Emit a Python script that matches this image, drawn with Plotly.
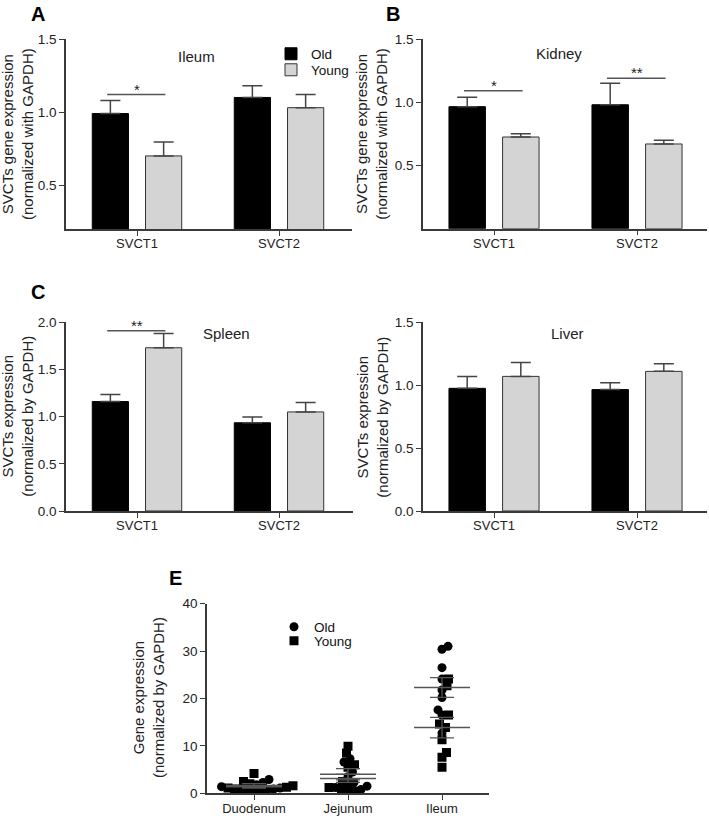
import numpy as np
import plotly.graph_objects as go

W, H = 709, 816

# ---------------- data ----------------
categories = ["SVCT1", "SVCT2"]

ileum_old = [0.99, 1.10]
ileum_old_err = [0.09, 0.08]
ileum_young = [0.70, 1.03]
ileum_young_err = [0.095, 0.09]

kidney_old = [0.965, 0.98]
kidney_old_err = [0.075, 0.17]
kidney_young = [0.725, 0.67]
kidney_young_err = [0.025, 0.03]

spleen_old = [1.16, 0.935]
spleen_old_err = [0.075, 0.06]
spleen_young = [1.73, 1.05]
spleen_young_err = [0.15, 0.10]

liver_old = [0.975, 0.965]
liver_old_err = [0.095, 0.055]
liver_young = [1.07, 1.11]
liver_young_err = [0.11, 0.06]

segments = ["Duodenum", "Jejunum", "Ileum"]
duodenum_old = [2.9, 2.3, 1.8, 1.4, 1.1, 0.9, 0.7, 0.6, 0.5]
duodenum_young = [4.2, 2.5, 2.0, 1.6, 1.3, 1.1, 0.9, 0.7, 0.6]
jejunum_old = [7.3, 6.6, 4.5, 3.5, 2.3, 1.5, 1.2, 0.8, 0.6]
jejunum_young = [9.9, 8.5, 6.0, 5.5, 2.5, 1.7, 1.2, 0.6, 0.3]
ileum_pts_old = [30.4, 31.0, 26.5, 24.1, 21.8, 20.2, 17.6, 16.5, 12.7]
ileum_pts_young = [24.1, 22.7, 16.5, 14.6, 13.9, 11.3, 8.6, 7.6, 5.5]

# significance marks: (panel, category index, y level, label)
sig_marks = [("A", 0, 1.12, "*"), ("B", 0, 1.09, "*"), ("B", 1, 1.19, "**"),
             ("C", 0, 1.91, "**")]

# ---------------- helpers ----------------
FONT = "Arial, Liberation Sans, sans-serif"
AX = "#3a3a3a"


def px_x(p):
    return min(1.0, max(0.0, p / W))


def px_y(p):
    return min(1.0, max(0.0, 1 - p / H))


fig = go.Figure()

# x: (axis left px, axis right px, first tick px, second tick px)
panels = {
    "A": dict(ax="", x=(66, 352, 137, 279), y=(229, 39),
              data=(ileum_old, ileum_old_err, ileum_young, ileum_young_err),
              yr=[0.2, 1.5], tv=[0.5, 1.0, 1.5], title="Ileum", tpos=(196, 57),
              ylab="SVCTs gene expression<br>(normalized with GAPDH)", ylx=17, letter=(38, 14)),
    "B": dict(ax="2", x=(423, 707, 494, 637), y=(228.7, 39),
              data=(kidney_old, kidney_old_err, kidney_young, kidney_young_err),
              yr=[0, 1.5], tv=[0.5, 1.0, 1.5], title="Kidney", tpos=(559, 54),
              ylab="SVCTs gene expression<br>(normalized with GAPDH)", ylx=372, letter=(393, 14)),
    "C": dict(ax="3", x=(66, 353, 137, 279), y=(511, 322.3),
              data=(spleen_old, spleen_old_err, spleen_young, spleen_young_err),
              yr=[0, 2.0], tv=[0, 0.5, 1.0, 1.5, 2.0], title="Spleen", tpos=(226, 333),
              ylab="SVCTs expression<br>(normalized by GAPDH)", ylx=18, letter=(38, 292)),
    "D": dict(ax="4", x=(423, 707, 494, 637), y=(511, 322.3),
              data=(liver_old, liver_old_err, liver_young, liver_young_err),
              yr=[0, 1.5], tv=[0, 0.5, 1.0, 1.5], title="Liver", tpos=(567, 333),
              ylab="SVCTs expression<br>(normalized by GAPDH)", ylx=373, letter=None),
}

annotations = []
shapes = []

axis_common = dict(showline=True, linecolor=AX, linewidth=1.5, ticks="outside", ticklen=5, tickcolor=AX,
                   tickwidth=1.2, showgrid=False, zeroline=False, automargin=False, fixedrange=True,
                   tickfont=dict(family=FONT, size=13.5, color="#222"))
xaxis_extra = dict(tickfont=dict(family=FONT, size=13, color="#222"), ticklabelstandoff=-3)

for key, p in panels.items():
    ax = p["ax"]
    xa, ya = "x" + ax, "y" + ax
    old, old_e, young, young_e = p["data"]
    first = key == "A"
    fig.add_trace(go.Bar(x=categories, y=old, name="Old", xaxis=xa, yaxis=ya,
                         marker=dict(color="black", line=dict(color="black", width=1)),
                         error_y=dict(type="data", array=old_e, arrayminus=[0] * len(old_e), symmetric=False,
                                      color="#444", thickness=1.5, width=10),
                         showlegend=first, legend="legend"))
    fig.add_trace(go.Bar(x=categories, y=young, name="Young", xaxis=xa, yaxis=ya,
                         marker=dict(color="#d4d4d4", line=dict(color="#333", width=1)),
                         error_y=dict(type="data", array=young_e, arrayminus=[0] * len(young_e), symmetric=False,
                                      color="#444", thickness=1.5, width=10),
                         showlegend=first, legend="legend3"))
    x0, x1, c0, c1 = p["x"]
    ppu = c1 - c0
    yb, yt = p["y"]
    fig.layout["xaxis" + ax] = dict(domain=[px_x(x0), px_x(x1)], anchor=ya,
                                    range=[-(c0 - x0) / ppu, 1 + (x1 - c1) / ppu],
                                    **{**axis_common, **xaxis_extra})
    fig.layout["yaxis" + ax] = dict(domain=[px_y(yb), px_y(yt)], anchor=xa, range=p["yr"],
                                    tickvals=p["tv"], tickformat=".1f", **axis_common)
    annotations.append(dict(text=p["title"], x=px_x(p["tpos"][0]), y=px_y(p["tpos"][1]), xref="paper",
                            yref="paper", xanchor="center", yanchor="middle", showarrow=False,
                            font=dict(family=FONT, size=15, color="#222")))
    annotations.append(dict(text=p["ylab"], x=px_x(p["ylx"]), y=(px_y(yb) + px_y(yt)) / 2, xref="paper",
                            yref="paper", xanchor="center", yanchor="middle", showarrow=False, textangle=-90,
                            font=dict(family=FONT, size=15, color="#222")))
    if p["letter"]:
        annotations.append(dict(text="<b>%s</b>" % key, x=px_x(p["letter"][0]), y=px_y(p["letter"][1]),
                                xref="paper", yref="paper", xanchor="center", yanchor="middle",
                                showarrow=False, font=dict(family=FONT, size=20, color="black")))

for key, ci, lvl, lab in sig_marks:
    ax = panels[key]["ax"]
    shapes.append(dict(type="line", xref="x" + ax, yref="y" + ax, x0=ci - 0.21, x1=ci + 0.2, y0=lvl, y1=lvl,
                       line=dict(color="#555", width=1.5)))
    annotations.append(dict(text=lab, x=ci, y=lvl, xref="x" + ax, yref="y" + ax, showarrow=False,
                            yanchor="bottom", yshift=-5, font=dict(family=FONT, size=15, color="#222")))

# ---------------- panel E ----------------
XS, YS = 94.0, 4.74  # pixels per x unit / y unit


def swarm(vals, dmin=6.5, step=0.5):
    vals = np.asarray(vals, float)
    offs = np.zeros(len(vals))
    placed = []
    for i in np.argsort(vals, kind="stable"):
        y = vals[i] * YS
        k = 0
        while True:
            c = 0.0 if k == 0 else ((k + 1) // 2) * step * (1 if k % 2 else -1)
            if all((c - px) ** 2 + (y - py) ** 2 >= dmin ** 2 for px, py in placed):
                break
            k += 1
        placed.append((c, y))
        offs[i] = c / XS
    return offs


groups = [(duodenum_old, duodenum_young), (jejunum_old, jejunum_young), (ileum_pts_old, ileum_pts_young)]
ox, oy, yx, yy = [], [], [], []
means_o, sems_o, means_y, sems_y = [], [], [], []
for gi, (o, y) in enumerate(groups):
    offs = swarm(list(o) + list(y))
    ox += list(gi + offs[:len(o)])
    oy += list(o)
    yx += list(gi + offs[len(o):])
    yy += list(y)
    means_o.append(np.mean(o)); sems_o.append(np.std(o, ddof=1) / np.sqrt(len(o)))
    means_y.append(np.mean(y)); sems_y.append(np.std(y, ddof=1) / np.sqrt(len(y)))

fig.add_trace(go.Scatter(x=ox, y=oy, mode="markers", name="Old", xaxis="x5", yaxis="y5",
                         marker=dict(symbol="circle", size=9, color="black"), legend="legend2"))
fig.add_trace(go.Scatter(x=yx, y=yy, mode="markers", name="Young", xaxis="x5", yaxis="y5",
                         marker=dict(symbol="square", size=9, color="black"), legend="legend4"))
for m, s in ((means_o, sems_o), (means_y, sems_y)):
    fig.add_trace(go.Scatter(x=[0, 1, 2], y=m, mode="markers", xaxis="x5", yaxis="y5", showlegend=False,
                             marker=dict(symbol="line-ew", size=40, line=dict(color="#555", width=1.5)),
                             error_y=dict(type="data", array=s, color="#555", thickness=1.3, width=12)))

fig.layout["xaxis5"] = dict(domain=[px_x(207), px_x(489)], anchor="y5", range=[-0.5, 2.5],
                            tickvals=[0, 1, 2], ticktext=segments, **{**axis_common, **xaxis_extra})
fig.layout["yaxis5"] = dict(domain=[px_y(793.3), px_y(603.7)], anchor="x5", range=[0, 40],
                            tickvals=[0, 10, 20, 30, 40], **axis_common)
annotations.append(dict(text="Gene expression<br>(normalized by GAPDH)", x=px_x(148), y=px_y(698),
                        xref="paper", yref="paper", xanchor="center", yanchor="middle", showarrow=False,
                        textangle=-90, font=dict(family=FONT, size=15, color="#222")))
annotations.append(dict(text="<b>E</b>", x=px_x(175), y=px_y(578), xref="paper", yref="paper",
                        xanchor="center", yanchor="middle",
                        showarrow=False, font=dict(family=FONT, size=20, color="black")))


def leg(xp, yp):
    return dict(x=px_x(xp), y=px_y(yp), xanchor="left", yanchor="middle", bgcolor="rgba(0,0,0,0)",
                font=dict(family=FONT, size=13.5, color="#111"), tracegroupgap=0)


fig.update_layout(
    width=W, height=H, margin=dict(l=0, r=0, t=0, b=0, autoexpand=False),
    paper_bgcolor="white", plot_bgcolor="white",
    barmode="group", bargap=0.25, bargroupgap=0.32,
    annotations=annotations, shapes=shapes,
    font=dict(family=FONT, color="#222"),
    legend=leg(271, 54), legend3=leg(271, 70),
    legend2=leg(274, 627), legend4=leg(274, 641),
)

# let the figure fill the whole 709x816 window (no default 8px body margin)
fig.write_html("out.html", config={"displayModeBar": False},
               post_script="document.body.style.margin='0';document.body.style.padding='0';")
